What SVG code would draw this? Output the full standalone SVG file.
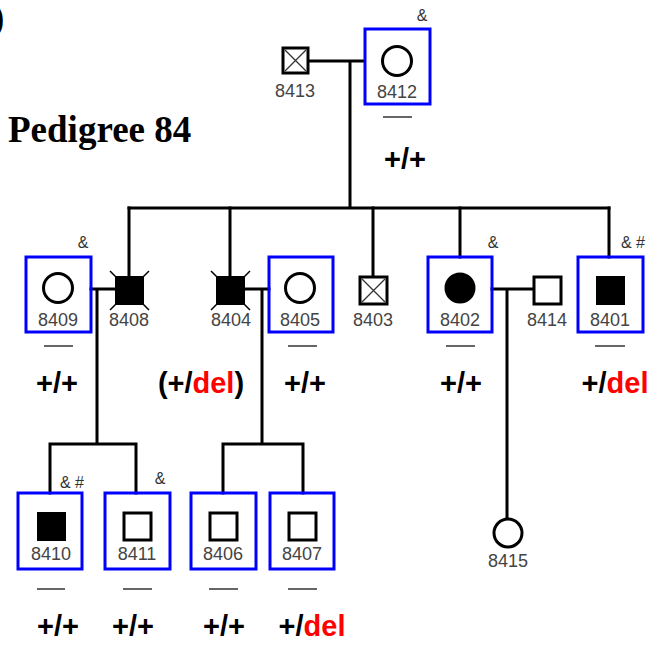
<svg xmlns="http://www.w3.org/2000/svg" width="665" height="645" viewBox="0 0 665 645">
<style>
.ln{stroke:#000;stroke-width:3;fill:none;stroke-linecap:square}
.box{fill:none;stroke:#0000ff;stroke-width:3}
.open{fill:#fff;stroke:#000;stroke-width:3}
.aff{fill:#000;stroke:#000;stroke-width:2}
.x{stroke:#333;stroke-width:1.3}
.tick{stroke:#000;stroke-width:1.5}
.lab{font-family:"Liberation Sans",Arial,sans-serif;font-size:18px;fill:#444;text-anchor:middle}
.amp{font-family:"Liberation Sans",Arial,sans-serif;font-size:16px;fill:#333;text-anchor:middle}
.dash{stroke:#666;stroke-width:2}
.gt{font-family:"Liberation Sans",Arial,sans-serif;font-weight:bold;font-size:29px;fill:#000;text-anchor:middle}
.del{fill:#ff0000}
.title{font-family:"Liberation Serif","Times New Roman",serif;font-weight:bold;font-size:37px;fill:#000}
</style>
<rect width="665" height="645" fill="#fff"/>
<text class="title" x="-8" y="30">)</text>
<text class="title" x="8" y="142">Pedigree 84</text>

<g id="connectors">
<path class="ln" d="M308,61H364M350,61V208M129,208H609"/>
<path class="ln" d="M129,208V276M230,208V276M373,208V276M460,208V257M609,208V257"/>
<path class="ln" d="M91,289H115M97,289V444M50,444H136M50,444V493M136,444V493"/>
<path class="ln" d="M246,289H269M262,289V444M223,444H303M223,444V493M303,444V493"/>
<path class="ln" d="M492,289H533M507,289V519"/>
</g>

<g id="n8413">
<rect class="open" x="283" y="48" width="25" height="25"/>
<path class="x" d="M285,50L306,71M306,50L285,71"/>
<text class="lab" x="295" y="97">8413</text>
</g>
<g id="n8412">
<rect class="box" x="365" y="29" width="65" height="75"/>
<circle class="open" cx="397" cy="61" r="14.5"/>
<text class="lab" x="397" y="98">8412</text>
<text class="amp" x="422" y="21">&amp;</text>
<line class="dash" x1="383" y1="117" x2="412" y2="117"/>
<text class="gt" x="405" y="169">+/+</text>
</g>

<g id="n8409">
<rect class="box" x="26" y="257" width="65" height="75"/>
<circle class="open" cx="58" cy="288" r="14.5"/>
<text class="lab" x="58" y="326">8409</text>
<text class="amp" x="83" y="248">&amp;</text>
<line class="dash" x1="44" y1="346" x2="73" y2="346"/>
<text class="gt" x="57" y="393">+/+</text>
</g>
<g id="n8408">
<rect class="aff" x="116" y="277" width="27" height="27"/>
<path class="tick" d="M116,277l-6,-6M143,277l6,-6M116,304l-6,6M143,304l6,6"/>
<text class="lab" x="129" y="326">8408</text>
</g>
<g id="n8404">
<rect class="aff" x="217" y="277" width="27" height="27"/>
<path class="tick" d="M217,277l-6,-6M244,277l6,-6M217,304l-6,6M244,304l6,6"/>
<text class="lab" x="231" y="326">8404</text>
<text class="gt" x="201" y="393">(+/<tspan class="del">del</tspan>)</text>
</g>
<g id="n8405">
<rect class="box" x="269" y="257" width="64" height="75"/>
<circle class="open" cx="300" cy="288" r="14.5"/>
<text class="lab" x="300" y="326">8405</text>
<line class="dash" x1="288" y1="346" x2="317" y2="346"/>
<text class="gt" x="305" y="393">+/+</text>
</g>
<g id="n8403">
<rect class="open" x="360" y="277" width="27" height="27"/>
<path class="x" d="M362,279L385,302M385,279L362,302"/>
<text class="lab" x="373" y="326">8403</text>
</g>
<g id="n8402">
<rect class="box" x="428" y="257" width="64" height="75"/>
<circle class="aff" cx="460" cy="288" r="14.5"/>
<text class="lab" x="460" y="326">8402</text>
<text class="amp" x="493" y="248">&amp;</text>
<line class="dash" x1="446" y1="346" x2="475" y2="346"/>
<text class="gt" x="461" y="393">+/+</text>
</g>
<g id="n8414">
<rect class="open" x="534" y="277" width="27" height="27"/>
<text class="lab" x="547" y="326">8414</text>
</g>
<g id="n8401">
<rect class="box" x="578" y="257" width="65" height="75"/>
<rect class="aff" x="597" y="277" width="27" height="27"/>
<text class="lab" x="610" y="326">8401</text>
<text class="amp" x="633" y="248">&amp; #</text>
<line class="dash" x1="595" y1="346" x2="625" y2="346"/>
<text class="gt" x="615" y="393">+/<tspan class="del">del</tspan></text>
</g>

<g id="n8410">
<rect class="box" x="18" y="493" width="64" height="76"/>
<rect class="aff" x="38" y="513" width="27" height="27"/>
<text class="lab" x="51" y="560">8410</text>
<text class="amp" x="72" y="488">&amp; #</text>
<line class="dash" x1="37" y1="589" x2="65" y2="589"/>
<text class="gt" x="58" y="636">+/+</text>
</g>
<g id="n8411">
<rect class="box" x="105" y="493" width="65" height="76"/>
<rect class="open" x="124" y="513" width="27" height="27"/>
<text class="lab" x="137" y="560">8411</text>
<text class="amp" x="160" y="484">&amp;</text>
<line class="dash" x1="123" y1="589" x2="152" y2="589"/>
<text class="gt" x="133" y="636">+/+</text>
</g>
<g id="n8406">
<rect class="box" x="191" y="493" width="65" height="76"/>
<rect class="open" x="210" y="513" width="27" height="27"/>
<text class="lab" x="223" y="560">8406</text>
<line class="dash" x1="209" y1="589" x2="238" y2="589"/>
<text class="gt" x="224" y="636">+/+</text>
</g>
<g id="n8407">
<rect class="box" x="270" y="493" width="64" height="76"/>
<rect class="open" x="289" y="513" width="27" height="27"/>
<text class="lab" x="302" y="560">8407</text>
<line class="dash" x1="288" y1="589" x2="317" y2="589"/>
<text class="gt" x="312" y="636">+/<tspan class="del">del</tspan></text>
</g>
<g id="n8415">
<circle class="open" cx="508" cy="533" r="14"/>
<text class="lab" x="508" y="567">8415</text>
</g>
</svg>
